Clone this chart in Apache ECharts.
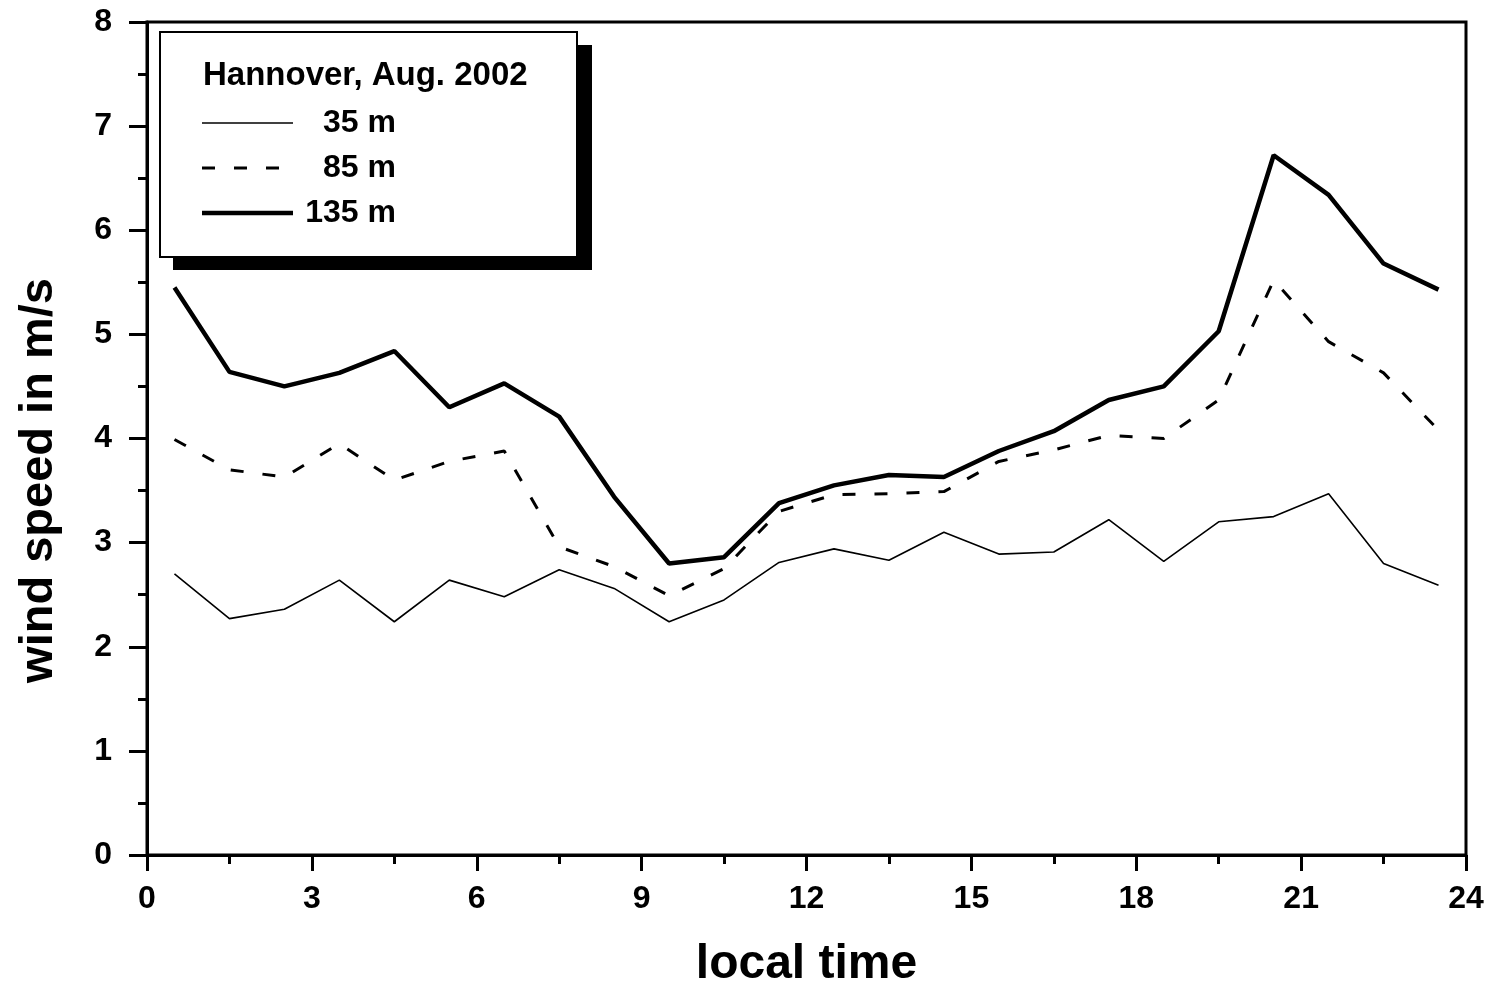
<!DOCTYPE html>
<html>
<head>
<meta charset="utf-8">
<script src="https://cdn.jsdelivr.net/npm/echarts@6/dist/echarts.min.js"></script>
<style>
html,body{margin:0;padding:0;background:#fff;}
#chart{width:1489px;height:988px;}
</style>
</head>
<body>
<div id="chart"></div>
<script>
// ---- data ----
var hours = [0.5, 1.5, 2.5, 3.5, 4.5, 5.5, 6.5, 7.5, 8.5, 9.5, 10.5, 11.5,
             12.5, 13.5, 14.5, 15.5, 16.5, 17.5, 18.5, 19.5, 20.5, 21.5, 22.5, 23.5];
var seriesNames = ['35 m', '85 m', '135 m'];
var wind35 = [2.70, 2.27, 2.36, 2.64, 2.24, 2.64, 2.48, 2.74, 2.56, 2.24, 2.45, 2.81,
              2.94, 2.83, 3.10, 2.89, 2.91, 3.22, 2.82, 3.20, 3.25, 3.47, 2.80, 2.59];
var wind85 = [3.99, 3.70, 3.63, 3.95, 3.60, 3.78, 3.88, 2.96, 2.77, 2.49, 2.75, 3.30,
              3.46, 3.47, 3.49, 3.78, 3.89, 4.03, 4.00, 4.37, 5.52, 4.93, 4.63, 4.08];
var wind135 = [5.45, 4.64, 4.50, 4.63, 4.84, 4.30, 4.53, 4.21, 3.44, 2.80, 2.86, 3.38,
               3.55, 3.65, 3.63, 3.88, 4.07, 4.37, 4.50, 5.03, 6.72, 6.34, 5.68, 5.43];
var xTickLabels = [0, 3, 6, 9, 12, 15, 18, 21, 24];
var yTickLabels = [0, 1, 2, 3, 4, 5, 6, 7, 8];
var legendTitle = 'Hannover, Aug. 2002';
var xTitle = 'local time';
var yTitle = 'wind speed in m/s';

function pairs(xs, ys) { return xs.map(function (x, i) { return [x, ys[i]]; }); }

var FONT = '"Liberation Sans", Arial, sans-serif';
var chart = echarts.init(document.getElementById('chart'), null, {renderer: 'canvas'});

// line styles shared by series and legend samples
var styles = [
  {width: 1.6, dash: null},
  {width: 3, dash: [13, 19]},
  {width: 4.5, dash: null}
];
var legendRowsY = [123, 168, 213];

var legendGraphics = [
  {type: 'rect', z: 5, shape: {x: 173, y: 45, width: 419, height: 225}, style: {fill: '#000'}},
  {type: 'rect', z: 6, shape: {x: 160, y: 32, width: 417, height: 225}, style: {fill: '#fff', stroke: '#000', lineWidth: 2}},
  {type: 'text', z: 7, x: 203, y: 59,
   style: {text: legendTitle, font: 'bold 33px ' + FONT, fill: '#000', textVerticalAlign: 'top'}}
];
seriesNames.forEach(function (n, i) {
  var st = {stroke: '#000', lineWidth: styles[i].width};
  if (styles[i].dash) { st.lineDash = styles[i].dash; }
  legendGraphics.push({type: 'line', z: 7,
    shape: {x1: 202, y1: legendRowsY[i], x2: i === 1 ? 279 : 293, y2: legendRowsY[i]}, style: st});
  legendGraphics.push({type: 'text', z: 7, x: 396, y: legendRowsY[i],
    style: {text: n, font: 'bold 32px ' + FONT, fill: '#000', textAlign: 'right', textVerticalAlign: 'middle'}});
});

var option = {
  animation: false,
  backgroundColor: '#ffffff',
  graphic: legendGraphics,
  grid: {
    left: 147, right: 23, top: 22, bottom: 133,
    outerBoundsMode: 'none', containLabel: false,
    show: true, borderColor: '#000', borderWidth: 3, backgroundColor: 'transparent'
  },
  xAxis: {
    type: 'value',
    min: xTickLabels[0], max: xTickLabels[xTickLabels.length - 1], interval: 3,
    name: xTitle, nameLocation: 'middle', nameGap: 86,
    nameTextStyle: {fontFamily: FONT, fontWeight: 'bold', fontSize: 48, color: '#000'},
    axisLine: {show: true, onZero: false, lineStyle: {color: '#000', width: 3}},
    axisTick: {show: true, inside: false, length: 16, lineStyle: {color: '#000', width: 3}},
    minorTick: {show: true, splitNumber: 2, length: 9, lineStyle: {color: '#000', width: 3}},
    splitLine: {show: false}, minorSplitLine: {show: false},
    axisLabel: {margin: 28, fontFamily: FONT, fontWeight: 'bold', fontSize: 32, color: '#000',
      formatter: function (v) { return xTickLabels.indexOf(v) >= 0 ? String(v) : ''; }}
  },
  yAxis: {
    type: 'value',
    min: yTickLabels[0], max: yTickLabels[yTickLabels.length - 1], interval: 1,
    name: yTitle, nameLocation: 'middle', nameGap: 84,
    nameTextStyle: {fontFamily: FONT, fontWeight: 'bold', fontSize: 47, color: '#000', padding: [0, 84, 0, 0]},
    axisLine: {show: true, onZero: false, lineStyle: {color: '#000', width: 3}},
    axisTick: {show: true, inside: false, length: 18, lineStyle: {color: '#000', width: 3}},
    minorTick: {show: true, splitNumber: 2, length: 9, lineStyle: {color: '#000', width: 3}},
    splitLine: {show: false}, minorSplitLine: {show: false},
    axisLabel: {margin: 35, fontFamily: FONT, fontWeight: 'bold', fontSize: 32, color: '#000',
      formatter: function (v) { return yTickLabels.indexOf(v) >= 0 ? String(v) : ''; }}
  },
  series: [
    {name: seriesNames[0], type: 'line', data: pairs(hours, wind35), showSymbol: false, symbol: 'none',
     lineStyle: {color: '#000', width: styles[0].width, type: 'solid'}, itemStyle: {color: '#000'}, z: 3},
    {name: seriesNames[1], type: 'line', data: pairs(hours, wind85), showSymbol: false, symbol: 'none',
     lineStyle: {color: '#000', width: styles[1].width, type: styles[1].dash}, itemStyle: {color: '#000'}, z: 3},
    {name: seriesNames[2], type: 'line', data: pairs(hours, wind135), showSymbol: false, symbol: 'none',
     lineStyle: {color: '#000', width: styles[2].width, type: 'solid'}, itemStyle: {color: '#000'}, z: 3}
  ]
};
chart.setOption(option);
</script>
</body>
</html>
